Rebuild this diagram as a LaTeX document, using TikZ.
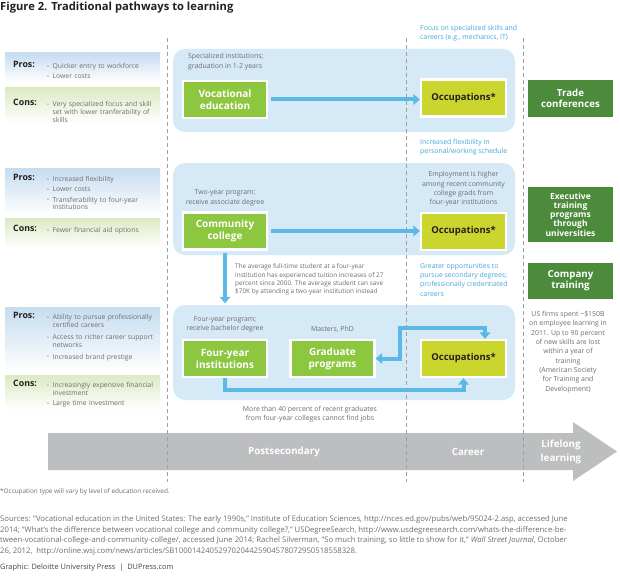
\documentclass[tikz,border=0pt]{standalone}
\usepackage{fontspec}
\usepackage{graphicx}
\setmainfont{Open Sans}
\usetikzlibrary{arrows.meta}
\definecolor{bgblue}{HTML}{D5EAF6}
\definecolor{arrblue}{HTML}{5BB9E5}
\definecolor{txtblue}{HTML}{48A6DA}
\definecolor{lgreen}{HTML}{8DC63F}
\definecolor{occcol}{HTML}{CAD62E}
\definecolor{dgreen}{HTML}{4B8B3B}
\definecolor{txtgray}{HTML}{6D6E71}
\definecolor{bargray}{HTML}{BCBEC0}
\definecolor{dashgray}{HTML}{9D9FA2}
\definecolor{prosblue}{HTML}{C6DCF0}
\definecolor{consgreen}{HTML}{DCEAC4}
\definecolor{dark}{HTML}{231F20}
\newcommand{\bl}[1]{\par\hangindent=5.5pt\hangafter=1\noindent\makebox[5.5pt][l]{\raisebox{0.4pt}{\scalebox{0.75}{\textbullet}}}#1\par}
\begin{document}
\begin{tikzpicture}[x=1pt,y=-1pt,
  bgbox/.style={fill=bgblue, rounded corners=12pt, inner sep=0pt},
  edubox/.style={fill=lgreen, draw=white, line width=2.2pt, minimum width=84pt, minimum height=37pt, inner sep=1pt, text=white, align=center, font=\bfseries\fontsize{10}{12}\selectfont},
  occbox/.style={fill=occcol, draw=white, line width=2.2pt, minimum width=85pt, minimum height=37pt, inner sep=1pt, text=dark, font=\bfseries\fontsize{9.5}{11}\selectfont},
  lifebox/.style={fill=dgreen, minimum width=85pt, inner sep=1pt, text=white, align=center},
  gnote/.style={text=txtgray, inner sep=0pt, align=center, font=\fontsize{6.9}{9.3}\selectfont},
  bnote/.style={text=txtblue, inner sep=0pt, align=left, anchor=north west, font=\fontsize{6.9}{9.3}\selectfont},
  plabel/.style={anchor=west, inner sep=0pt, text=dark, font=\bfseries\fontsize{8.8}{10}\selectfont},
  plist/.style={anchor=north west, inner sep=0pt, text width=114pt, align=left, text=txtgray, font=\fontsize{6.8}{7.9}\selectfont},
  flow/.style={draw=arrblue, line width=4pt, -{Triangle[width=10.5pt,length=6.5pt]}},
  flowboth/.style={draw=arrblue, line width=4pt, {Triangle[width=10.5pt,length=6.5pt]}-{Triangle[width=10.5pt,length=6.5pt]}},
  guide/.style={draw=dashgray, line width=0.6pt, dash pattern=on 4pt off 3pt},
  barlabel/.style={text=white, font=\bfseries\fontsize{9.8}{14}\selectfont, align=center, inner sep=0pt}
]
\useasboundingbox (0,0) rectangle (620,575);
\fill[white] (0,0) rectangle (620,575);

% title
\node[anchor=west, inner sep=0pt, text=dark, font=\bfseries\fontsize{11.2}{13}\selectfont] (title) at (0,7.5) {Figure 2. Traditional pathways to learning};

% pros / cons bands
\shade[top color=prosblue, bottom color=white] (5,53) rectangle (160,82);
\shade[top color=consgreen, bottom color=white] (5,88) rectangle (160,123);
\shade[top color=prosblue, bottom color=white] (5,168) rectangle (160,215);
\shade[top color=consgreen, bottom color=white] (5,218) rectangle (160,248);
\shade[top color=prosblue, bottom color=white] (5,307) rectangle (160,372);
\shade[top color=consgreen, bottom color=white] (5,375) rectangle (160,410);

\node[plabel] (p1) at (13,64) {Pros:};
\node[plist] (p1l) at (47,60.5) {\bl{Quicker entry to workforce}\vspace{2.3pt}\bl{Lower costs}};
\node[plabel] (c1) at (13,102) {Cons:};
\node[plist] (c1l) at (47,98.5) {\bl{Very specialized focus and skill\newline set with lower tranferability of\newline skills}};
\node[plabel] (p2) at (13,177) {Pros:};
\node[plist] (p2l) at (47,173.5) {\bl{Increased flexibility}\vspace{2.3pt}\bl{Lower costs}\vspace{2.3pt}\bl{Transferability to four-year\newline institutions}};
\node[plabel] (c2) at (13,228) {Cons:};
\node[plist] (c2l) at (47,224.5) {\bl{Fewer financial aid options}};
\node[plabel] (p3) at (13,315) {Pros:};
\node[plist] (p3l) at (47,311.5) {\bl{Ability to pursue professionally\newline certified careers}\vspace{4pt}\bl{Access to richer career support\newline networks}\vspace{4pt}\bl{Increased brand prestige}};
\node[plabel] (c3) at (13,383) {Cons:};
\node[plist] (c3l) at (47,379.5) {\bl{Increasingly expensive financial\newline investment}\vspace{2.3pt}\bl{Large time investment}};

% background boxes
\node[bgbox, minimum width=342pt, minimum height=83pt] (bg1) at (344,90.5) {};
\node[bgbox, minimum width=342pt, minimum height=92pt] (bg2) at (344,209) {};
\node[bgbox, minimum width=342pt, minimum height=95pt] (bg3) at (344,352.5) {};

% education boxes
\node[edubox] (voc) at (225,99.5) {Vocational\\education};
\node[edubox] (comm) at (225,231) {Community\\college};
\node[edubox] (four) at (225,358.5) {Four-year\\institutions};
\node[edubox] (grad) at (332.5,358.5) {Graduate\\programs};

% occupations
\node[occbox] (occ1) at (463.5,98) {Occupations*};
\node[occbox] (occ2) at (463.5,231.5) {Occupations*};
\node[occbox] (occ3) at (463.5,358.5) {Occupations*};

% lifelong learning boxes
\node[lifebox, minimum height=37pt, font=\bfseries\fontsize{9.7}{11}\selectfont] (trade) at (570.5,98.5) {Trade\\conferences};
\node[lifebox, minimum height=55pt, font=\bfseries\fontsize{8.5}{9.3}\selectfont] (exec) at (570.5,214.5) {Executive\\training\\programs\\through\\universities};
\node[lifebox, minimum height=36pt, font=\bfseries\fontsize{9.7}{11}\selectfont] (comp) at (570.5,281) {Company\\training};

% annotations
\node[gnote, align=left, anchor=north west] (a1) at (188,53.5) {Specialized institutions;\\graduation in 1-2 years};
\node[gnote] (a2) at (225,198) {Two-year program;\\receive associate degree};
\node[gnote, align=left, anchor=north west, font=\fontsize{6.4}{8.4}\selectfont] (a3) at (235,263.5) {The average full-time student at a four-year\\institution has experienced tuition increases of 27\\percent since 2000. The average student can save\\\$70K by attending a two-year institution instead};
\node[gnote] (a4) at (225,324.5) {Four-year program;\\receive bachelor degree};
\node[gnote] (a5) at (332.5,329) {Masters, PhD};
\node[gnote] (a6) at (310,414.5) {More than 40 percent of recent graduates\\from four-year colleges cannot find jobs};
\node[bnote] (a7) at (420,25) {Focus on specialized skills and\\careers (e.g., mechanics, IT)};
\node[bnote] (a8) at (420,139) {Increased flexibility in\\personal/working schedule};
\node[gnote] (a9) at (463.5,189) {Employment is higher\\among recent community\\college grads from\\four-year institutions};
\node[bnote] (a10) at (420,263) {Greater opportunities to\\pursue secondary degrees;\\professionally credentiated\\careers};
\node[gnote] (a11) at (568,352) {US firms spent \textasciitilde\$150B\\on employee learning in\\2011. Up to 90 percent\\of new skills are lost\\within a year of\\training\\(American Society\\for Training and\\Development)};

% flows
\draw[flow, shorten <=3pt] (voc.east) -- (occ1.west |- voc.east);
\draw[flow, shorten <=3pt] (comm.east) -- (occ2.west |- comm.east);
\draw[flow, shorten <=2pt, shorten >=1.5pt] (comm.south) -- (comm.south |- bg3.north);
\coordinate (g1) at (400,328);
\draw[flowboth] (grad.east) -| (g1) -| ([xshift=21.5pt]occ3.north);
\coordinate (b1) at (463.5,390);
\draw[flow] (four.south) |- (b1) -- (occ3.south);

% timeline bar
\fill[bargray] (48,433) -- (573,433) -- (573,422) -- (617,451.5) -- (573,481) -- (573,470) -- (48,470) -- cycle;
\node[barlabel] (post) at (284,451.5) {Postsecondary};
\node[barlabel] (career) at (468,451.5) {Career};
\node[barlabel] (life) at (561,452) {Lifelong\\learning};

% guides
\draw[guide] (167,38) -- (167,482);
\draw[guide] (406,38) -- (406,482);
\draw[guide] (523,38) -- (523,482);

% footer
\node[anchor=base west, inner sep=0pt, text=txtgray, font=\fontsize{6.4}{8}\selectfont] (fn) at (0,493) {*Occupation type will vary by level of education received.};
\node[anchor=north west, inner sep=0pt, text=txtgray, align=left, font=\fontsize{7.7}{10.5}\selectfont] (src) at (0,515.5) {Sources: “Vocational education in the United States: The early 1990s,” Institute of Education Sciences, http://nces.ed.gov/pubs/web/95024-2.asp, accessed June\\2014; “What’s the difference between vocational college and community college?,” USDegreeSearch, http://www.usdegreesearch.com/whats-the-difference-be-\\tween-vocational-college-and-community-college/, accessed June 2014; Rachel Silverman, “So much training, so little to show for it,” \textit{Wall Street Journal}, October\\26, 2012,\ \ http://online.wsj.com/news/articles/SB10001424052970204425904578072950518558328.};
\node[anchor=base west, inner sep=0pt, text=dark!85, font=\fontsize{7.4}{9}\selectfont] (gr) at (0,569) {Graphic: Deloitte University Press\ \ |\ \ DUPress.com};
\end{tikzpicture}
\end{document}
